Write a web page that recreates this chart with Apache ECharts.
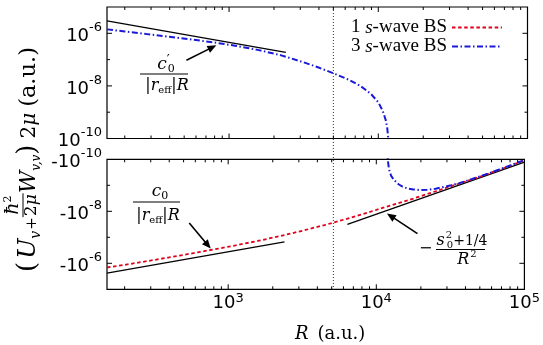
<!DOCTYPE html>
<html><head><meta charset="utf-8">
<script src="https://cdn.jsdelivr.net/npm/echarts@6/dist/echarts.min.js"></script>
<style>html,body{margin:0;padding:0;background:#fff}#c{width:543px;height:345px}</style>
</head><body><div id="c"></div>
<script>
// ---------------- data ----------------
// top panel: 3 s-wave BS, positive part
const R_blueTop = [152, 200, 282, 398, 562, 794, 1122, 1585, 2239, 3162, 3981, 5012, 6310, 7586, 8913, 10000, 10715, 11220, 11482, 11668, 11790];
const V_blueTop = [1.41e-6, 1.17e-6, 9.3e-7, 7.4e-7, 5.8e-7, 4.47e-7, 3.3e-7, 2.29e-7, 1.45e-7, 7.9e-8, 5.0e-8, 3.0e-8, 1.74e-8, 1.0e-8, 5.0e-9, 2.4e-9, 1.12e-9, 5.0e-10, 2.5e-10, 1.0e-10, 2.5e-11];
// bottom panel: 3 s-wave BS, negative part
const R_blueBot = [11870, 11950, 12100, 12250, 12600, 13240, 14125, 15030, 16200, 17780, 19500, 22080, 25120, 28580, 32000, 36300, 50100, 70800, 100000];
const V_blueBot = [-4.0e-11, -1.0e-10, -1.82e-10, -2.63e-10, -4.37e-10, -6.46e-10, -9.12e-10, -1.12e-9, -1.32e-9, -1.45e-9, -1.51e-9, -1.48e-9, -1.35e-9, -1.16e-9, -1.0e-9, -8.3e-10, -4.57e-10, -2.24e-10, -1.07e-10];
// bottom panel: 1 s-wave BS
const R_red = [152, 200, 282, 398, 562, 794, 1122, 1585, 2239, 3162, 4467, 6310, 8913, 12590, 17780, 25120, 35480, 50120, 70790, 100000];
const V_red = [-1.45e-6, -1.15e-6, -8.3e-7, -5.96e-7, -4.22e-7, -2.95e-7, -2.04e-7, -1.38e-7, -9.0e-8, -5.6e-8, -3.39e-8, -1.95e-8, -1.08e-8, -5.9e-9, -3.24e-9, -1.7e-9, -8.9e-10, -4.68e-10, -2.29e-10, -1.1e-10];
// asymptotes
const R_asymTop = [152, 2400];   const V_asymTop = [2.96e-6, 1.88e-7];
const R_asymBotL = [152, 2400];  const V_asymBotL = [-2.37e-6, -1.5e-7];
const R_asymBotR = [6380, 100000]; const V_asymBotR = [-3.17e-8, -1.29e-10];
// vertical guide
const guideR = 5000;
// ticks
const xMajorTicks = [1000, 10000];
const xMinorTicks = [200, 300, 400, 500, 600, 700, 800, 900, 2000, 3000, 4000, 5000, 6000, 7000, 8000, 9000, 20000, 30000, 40000, 50000, 60000, 70000, 80000, 90000];
const yMajorTicks = [1e-8, 1e-6];
const yMinorTicks = [1e-9, 1e-7];
const legendNames = ['1 s-wave BS', '3 s-wave BS'];

// ---------------- style ----------------
const SERIF = 'DejaVu Serif', SANS = 'DejaVu Sans', TIMES = 'Liberation Serif';
const RED = '#e2001a', BLUE = '#1a1ad6';
const pairs = (xs, ys) => xs.map((x, i) => [x, Math.abs(ys[i])]);

const chart = echarts.init(document.getElementById('c'), null, {renderer: 'canvas'});

function expOf(v) { const e = Math.log10(v); return Math.abs(e - Math.round(e)) < 1e-6 ? Math.round(e) : null; }
const richY = {
  a: {fontFamily: SANS, fontSize: 18, color: '#000', lineHeight: 24, verticalAlign: 'bottom'},
  b: {fontFamily: SANS, fontSize: 13, color: '#000', lineHeight: 13, verticalAlign: 'top'}
};
const richX = {
  a: {fontFamily: SANS, fontSize: 18, color: '#000', lineHeight: 20, verticalAlign: 'bottom'},
  b: {fontFamily: SANS, fontSize: 13, color: '#000', lineHeight: 13, verticalAlign: 'top'}
};
const yFmt = pre => v => { const e = expOf(v); return (e === null || e % 2 !== 0) ? '' : '{a|' + pre + '10}{b|' + e + '}'; };
const xFmt = v => { const e = expOf(v); return e === null ? '' : '{a|10}{b|' + e + '}'; };

const hide = {axisLine: {show: false}, axisTick: {show: false}, splitLine: {show: false}};

function tickSeries(grid, kind, values, len, ref) {
  return {
    type: 'custom', xAxisIndex: grid, yAxisIndex: grid, silent: true, z: 10,
    data: values.map(v => kind === 'x' ? [v, ref] : [ref, v]),
    encode: {x: 0, y: 1},
    renderItem: function (params, api) {
      const cs = params.coordSys;
      const p = api.coord([api.value(0), api.value(1)]);
      const st = {stroke: '#000', lineWidth: 1};
      if (kind === 'x') {
        const x = p[0];
        return {type: 'group', children: [
          {type: 'line', shape: {x1: x, y1: cs.y + cs.height, x2: x, y2: cs.y + cs.height - len}, style: st},
          {type: 'line', shape: {x1: x, y1: cs.y, x2: x, y2: cs.y + len}, style: st}]};
      }
      const y = p[1];
      return {type: 'group', children: [
        {type: 'line', shape: {x1: cs.x, y1: y, x2: cs.x + len, y2: y}, style: st},
        {type: 'line', shape: {x1: cs.x + cs.width, y1: y, x2: cs.x + cs.width - len, y2: y}, style: st}]};
    }
  };
}

const blueStyle = {color: BLUE, width: 2, type: [6, 2.5, 1.5, 2.5]};
const redStyle = {color: RED, width: 1.8, type: [3.5, 2.6]};
const blackStyle = {color: '#000', width: 1.3, type: 'solid'};

const option = {
  animation: false,
  backgroundColor: '#fff',
  grid: [
    {left: 107, right: 15.5, top: 7, height: 131.5, show: true, borderColor: '#000', borderWidth: 1.2, backgroundColor: 'transparent'},
    {left: 107, right: 15.5, top: 159.3, height: 130, show: true, borderColor: '#000', borderWidth: 1.2, backgroundColor: 'transparent'}
  ],
  xAxis: [
    Object.assign({type: 'log', gridIndex: 0, min: 152, max: 1e5, axisLabel: {show: false}}, hide),
    Object.assign({type: 'log', gridIndex: 1, min: 152, max: 1e5, axisLabel: {formatter: xFmt, margin: 3, rich: richX}}, hide)
  ],
  yAxis: [
    Object.assign({type: 'log', gridIndex: 0, min: 1e-10, max: 1e-5, axisLabel: {formatter: yFmt(''), margin: 5, rich: richY}}, hide),
    Object.assign({type: 'log', gridIndex: 1, min: 1e-10, max: 1e-5, inverse: true, axisLabel: {formatter: yFmt('-'), margin: 5, rich: richY}}, hide)
  ],
  legend: {
    data: legendNames, orient: 'vertical', right: 35, top: 13, align: 'right',
    itemWidth: 50, itemHeight: 10, itemGap: 0,
    itemStyle: {opacity: 0},
    formatter: name => { const k = name.split(' ')[0]; return '{n|' + k + ' }{i|s}{n|-wave BS}'; },
    textStyle: {fontFamily: TIMES, fontSize: 19, color: '#000', rich: {
      n: {fontFamily: TIMES, fontSize: 19, color: '#000', lineHeight: 20},
      i: {fontFamily: TIMES, fontSize: 19, color: '#000', fontStyle: 'italic', lineHeight: 20}}}
  },
  series: [
    {type: 'line', name: 'asymTop', xAxisIndex: 0, yAxisIndex: 0, data: pairs(R_asymTop, V_asymTop), symbol: 'none', lineStyle: blackStyle, z: 3},
    {type: 'line', name: legendNames[1], xAxisIndex: 0, yAxisIndex: 0, data: pairs(R_blueTop, V_blueTop), symbol: 'none', lineStyle: blueStyle, itemStyle: {color: BLUE}, z: 4},
    {type: 'line', name: 'asymBotL', xAxisIndex: 1, yAxisIndex: 1, data: pairs(R_asymBotL, V_asymBotL), symbol: 'none', lineStyle: blackStyle, z: 3},
    {type: 'line', name: 'asymBotR', xAxisIndex: 1, yAxisIndex: 1, data: pairs(R_asymBotR, V_asymBotR), symbol: 'none', lineStyle: blackStyle, z: 3},
    {type: 'line', name: legendNames[0], xAxisIndex: 1, yAxisIndex: 1, data: pairs(R_red, V_red), symbol: 'none', lineStyle: redStyle, itemStyle: {color: RED}, z: 4},
    {type: 'line', name: legendNames[1], xAxisIndex: 1, yAxisIndex: 1, data: pairs(R_blueBot, V_blueBot), symbol: 'none', lineStyle: blueStyle, itemStyle: {color: BLUE}, z: 5},
    tickSeries(0, 'x', xMajorTicks, 5, 1e-7), tickSeries(0, 'x', xMinorTicks, 3, 1e-7),
    tickSeries(1, 'x', xMajorTicks, 5, 1e-7), tickSeries(1, 'x', xMinorTicks, 3, 1e-7),
    tickSeries(0, 'y', yMajorTicks, 5, 1000), tickSeries(0, 'y', yMinorTicks, 3, 1000),
    tickSeries(1, 'y', yMajorTicks, 5, 1000), tickSeries(1, 'y', yMinorTicks, 3, 1000)
  ]
};
chart.setOption(option);

// ---------------- annotations (text built from measured pieces) ----------------
const mctx = document.createElement('canvas').getContext('2d');
function fnt(p) { return (p.it ? 'italic ' : '') + p.s + 'px "' + (p.f || SERIF) + '"'; }
function tw(p) { mctx.font = fnt(p); return mctx.measureText(p.t).width; }
function textEl(x, base, p) {
  return {type: 'text', x: x, y: base - 0.345 * p.s, style: {text: p.t, fontSize: p.s, fontFamily: p.f || SERIF,
    fontStyle: p.it ? 'italic' : 'normal', fill: '#000', align: 'left', verticalAlign: 'middle'}};
}
function layout(pieces) {
  let x = 0; const items = [];
  for (const p of pieces) {
    x += p.dx || 0;
    if (p.frac) {
      const n = layout(p.num), d = layout(p.den);
      const fw = Math.max(n.w, d.w) + 2 * (p.pad == null ? 2 : p.pad);
      items.push({x, fw, n, d, p}); x += fw;
    } else { items.push({x, p}); if (p.adv !== false) x += tw(p); }
  }
  return {w: x, els: function (ox, base) {
    const out = [];
    for (const it of items) {
      if (it.fw) {
        const by = base - it.p.bar;
        out.push({type: 'line', shape: {x1: ox + it.x, y1: by, x2: ox + it.x + it.fw, y2: by}, style: {stroke: '#000', lineWidth: 1}});
        out.push(...it.n.els(ox + it.x + (it.fw - it.n.w) / 2, by - it.p.ng));
        out.push(...it.d.els(ox + it.x + (it.fw - it.d.w) / 2, by + it.p.dg));
      } else out.push(textEl(ox + it.x, base + (it.p.dy || 0), it.p));
    }
    return out;
  }};
}
const centered = (pieces, cx, base) => { const L = layout(pieces); return L.els(cx - L.w / 2, base); };
const hbar = (x1, x2, y) => ({type: 'line', shape: {x1, y1: y, x2, y2: y}, style: {stroke: '#000', lineWidth: 1}});
function arrow(p0, p1) {
  const dx = p1[0] - p0[0], dy = p1[1] - p0[1], L = Math.hypot(dx, dy), ux = dx / L, uy = dy / L;
  const hl = 9, hw = 3.8, bx = p1[0] - ux * hl, by = p1[1] - uy * hl;
  return [
    {type: 'line', shape: {x1: p0[0], y1: p0[1], x2: bx + ux, y2: by + uy}, style: {stroke: '#000', lineWidth: 1.6}},
    {type: 'polygon', shape: {points: [[p1[0], p1[1]], [bx - uy * hw, by + ux * hw], [bx + uy * hw, by - ux * hw]]}, style: {fill: '#000'}}
  ];
}
const pix = (g, R, v) => chart.convertToPixel({gridIndex: g}, [R, Math.abs(v)]);

const denReff = [{t: '|', s: 16}, {t: 'r', s: 16, it: true}, {t: 'eff', s: 10, dy: 3}, {t: '|', s: 16}, {t: 'R', s: 16, it: true}];
const els = [];
// arrows (anchored in data space)
els.push(...arrow(pix(0, 518, 9.4e-8), pix(0, 822, 3.5e-7)));
els.push(...arrow(pix(1, 546, -2.8e-8), pix(1, 762, -2.72e-7)));
els.push(...arrow(pix(1, 18970, -7.2e-8), pix(1, 11800, -1.22e-8)));
// c0' / |reff| R
els.push(...centered([{t: 'c', s: 17, it: true}, {t: '′', s: 13, dy: -5, adv: false}, {t: '0', s: 11, dy: 3, dx: 1}], 166, 70));
els.push(hbar(140, 188, 74));
els.push(...centered(denReff, 167, 91));
// c0 / |reff| R
els.push(...centered([{t: 'c', s: 17, it: true}, {t: '0', s: 11, dy: 3}], 160, 197));
els.push(hbar(133, 180, 202));
els.push(...centered(denReff, 158, 221));
// -(s0^2+1/4)/R^2
els.push(textEl(419, 249 + 0.345 * 16, {t: '−', s: 16}));
els.push(...centered([{t: 's', s: 16, it: true}, {t: '2', s: 10, dy: -7, adv: false, dx: 1}, {t: '0', s: 10, dy: 3, dx: 1}, {t: '+1/4', s: 14}], 462, 246));
els.push(hbar(436, 485, 249.5));
els.push(...centered([{t: 'R', s: 16, it: true}, {t: '2', s: 10, dy: -7, dx: 1}], 467, 265));

// x-axis title
els.push(...layout([{t: 'R', s: 18, it: true}, {t: '(a.u.)', s: 18, dx: 9}]).els(295, 341));

// y-axis title (rotated)
const yTitle = layout([
  {t: '(', s: 26}, {t: 'U', s: 24, it: true, dx: 3}, {t: 'v', s: 14, it: true, dy: 4}, {t: '+', s: 15, dx: 1},
  {frac: true, bar: 14, ng: 3, dg: 14, pad: 1,
   num: [{t: 'ħ', s: 19, it: true}, {t: '2', s: 11, dy: -8}],
   den: [{t: '2', s: 17}, {t: 'μ', s: 17, it: true}]},
  {t: 'W', s: 22, it: true}, {t: 'v,v', s: 12, it: true, dy: 4}, {t: ')', s: 26},
  {t: '2', s: 20, dx: 6}, {t: 'μ', s: 20, it: true}, {t: '(a.u.)', s: 22.5, dx: 6}
]);
els.push({type: 'group', x: 0, y: 272, rotation: Math.PI / 2, children: yTitle.els(0, 37)});

// vertical dotted guide across both panels
const gx = chart.convertToPixel({xAxisIndex: 0}, guideR);
const gTop = chart.convertToPixel({yAxisIndex: 0}, 1e-5);
const gBot = chart.convertToPixel({yAxisIndex: 1}, 1e-5);
els.push({type: 'line', z: 2, shape: {x1: gx, y1: gTop, x2: gx, y2: gBot}, style: {stroke: '#333', lineWidth: 1, lineDash: [1, 2]}});

chart.setOption({graphic: {elements: els}});
</script></body></html>
